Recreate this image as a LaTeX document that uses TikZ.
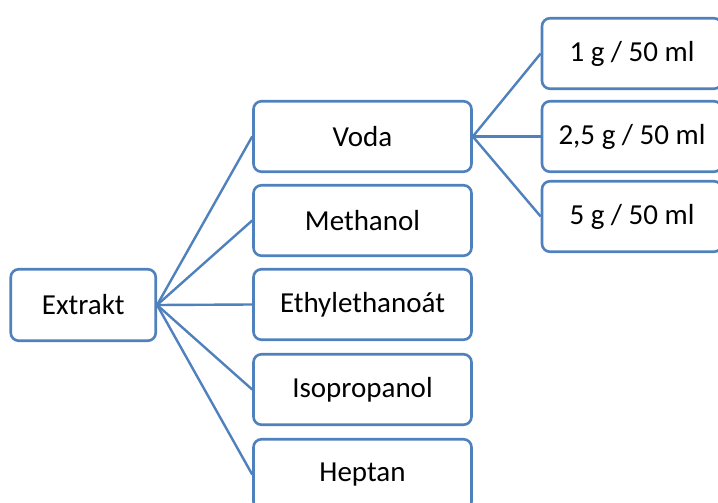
\documentclass[tikz,border=0pt]{standalone}
\usepackage{fontspec}
\setmainfont{Carlito}
\definecolor{boxblue}{HTML}{4F81BD}
\begin{document}
\begin{tikzpicture}[x=1pt,y=-1pt,
  box/.style={draw=boxblue,line width=2.6pt,rounded corners=8pt,fill=white,
    inner sep=0pt,font=\fontsize{29}{33}\selectfont},
  midbox/.style={box,minimum width=218pt,minimum height=70.5pt},
  rbox/.style={box,minimum width=180pt,minimum height=70.5pt},
  link/.style={draw=boxblue,line width=2.4pt}]
\clip (0,0) rectangle (718,503);
\fill[white] (0,0) rectangle (718,503);
\node[box,minimum width=145pt,minimum height=71.5pt] (ex) at (83.25,305) {Extrakt};
\node[midbox] (voda) at (362.5,136.5) {Voda};
\node[midbox] (meth) at (362.5,220.5) {Methanol};
\node[midbox] (ethyl) at (362.5,304.5) {Ethylethanoát};
\node[midbox] (iso) at (362.5,389.5) {Isopropanol};
\node[midbox] (hep) at (362.5,474.5) {Heptan};
\node[rbox] (r1) at (632,53.5) {1 g / 50 ml};
\node[rbox] (r2) at (632,136.5) {2,5 g / 50 ml};
\node[rbox] (r3) at (632,216.5) {5 g / 50 ml};
\foreach \t in {voda,meth,ethyl,iso,hep}
  \draw[link] (ex.east) -- (\t.west);
\foreach \t in {r1,r2,r3}
  \draw[link] (voda.east) -- (\t.west);
\end{tikzpicture}
\end{document}
